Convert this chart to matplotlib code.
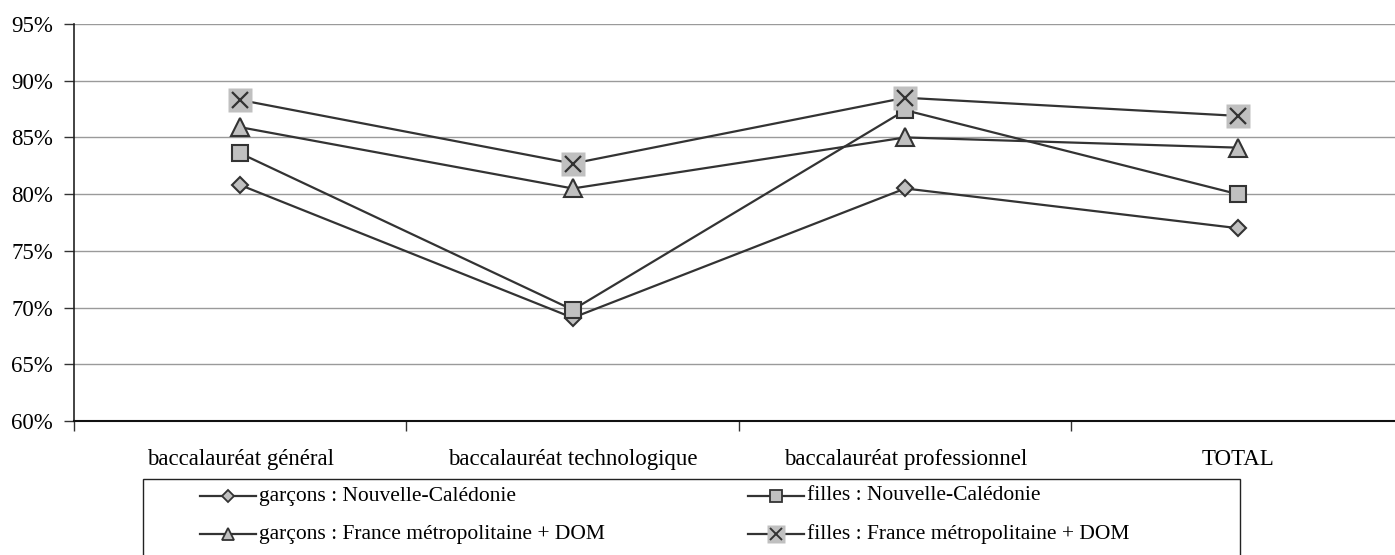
import matplotlib
matplotlib.use("Agg")
import matplotlib.pyplot as plt
from matplotlib.ticker import FixedLocator, FuncFormatter
from matplotlib.lines import Line2D
from matplotlib.patches import Rectangle

categories = ["baccalauréat général", "baccalauréat technologique",
              "baccalauréat professionnel", "TOTAL"]
garcons_nc = [80.8, 69.1, 80.5, 77.0]
filles_nc = [83.6, 69.8, 87.4, 80.0]
garcons_fm = [85.9, 80.5, 85.0, 84.1]
filles_fm = [88.3, 82.7, 88.5, 86.9]
labels = ["garçons : Nouvelle-Calédonie", "filles : Nouvelle-Calédonie",
          "garçons : France métropolitaine + DOM", "filles : France métropolitaine + DOM"]
yticks = [60, 65, 70, 75, 80, 85, 90, 95]

plt.rcParams['font.family'] = ['Liberation Serif', 'DejaVu Serif']

W, H = 1395, 555
fig = plt.figure(figsize=(W / 100, H / 100), dpi=100)
ax = fig.add_axes([74 / W, 1 - 421 / H, (1404 - 74) / W, (421 - 24) / H])

lc = "#333333"
mfc = "#c0c0c0"
x = list(range(len(categories)))

common = dict(color=lc, lw=1.6, mfc=mfc, mec=lc, mew=1.5, zorder=3)
ax.plot(x, garcons_nc, marker='D', ms=8.5, **common)
ax.plot(x, filles_nc, marker='s', ms=11.5, **common)
ax.plot(x, garcons_fm, marker='^', ms=12.5, **common)
ax.plot(x, filles_fm, color=lc, lw=1.6, marker='s', ms=17, mfc=mfc, mec='none', zorder=4)
ax.plot(x, filles_fm, ls='none', marker='x', ms=11, mec=lc, mew=1.6, zorder=5)

ax.set_xlim(-0.5, len(categories) - 0.5)
ax.set_ylim(60, 95)
ax.yaxis.set_major_locator(FixedLocator(yticks))
ax.yaxis.set_major_formatter(FuncFormatter(lambda v, p: f"{v:.0f}%"))
ax.grid(axis='y', color='#9a9a9a', lw=1.0)
ax.set_axisbelow(True)

ax.set_xticks(x)
ax.set_xticklabels(categories)
ax.set_xticks([i + 0.5 for i in range(-1, len(categories))], minor=True)
ax.tick_params(axis='x', which='major', length=0, pad=20, labelsize=16.5)
ax.tick_params(axis='x', which='minor', length=7, width=1, color='#333333')
ax.tick_params(axis='y', length=7, width=1, color='#333333', labelsize=16.5, pad=8)

for s in ['top', 'right']:
    ax.spines[s].set_visible(False)
ax.spines['left'].set_color('#222222')
ax.spines['left'].set_linewidth(1.2)
ax.spines['bottom'].set_color('#111111')
ax.spines['bottom'].set_linewidth(1.5)

# legend (drawn in figure pixel coordinates)
def fx(px):
    return px / W

def fy(py):
    return 1 - py / H

fig.patches.append(Rectangle((fx(143), fy(570)), fx(1240) - fx(143), fy(479) - fy(570),
                             transform=fig.transFigure, fill=False,
                             edgecolor='#222222', lw=1.0))

styles = [
    dict(marker='D', ms=6, mfc=mfc, mec=lc, mew=1.3),
    dict(marker='s', ms=8, mfc=mfc, mec=lc, mew=1.3),
    dict(marker='^', ms=8.5, mfc=mfc, mec=lc, mew=1.3),
    None,
]
cols = [200, 748]
rows = [496, 534]
entries = [(0, 0, 0), (1, 1, 0), (2, 0, 1), (3, 1, 1)]
for idx, c, r in entries:
    x0 = cols[c]
    y0 = rows[r]
    fig.add_artist(Line2D([fx(x0), fx(x0 + 56)], [fy(y0), fy(y0)],
                          transform=fig.transFigure, color=lc, lw=1.6))
    if styles[idx] is not None:
        fig.add_artist(Line2D([fx(x0 + 28)], [fy(y0)], transform=fig.transFigure,
                              ls='none', **styles[idx]))
    else:
        fig.add_artist(Line2D([fx(x0 + 28)], [fy(y0)], transform=fig.transFigure,
                              ls='none', marker='s', ms=12.5, mfc=mfc, mec='none'))
        fig.add_artist(Line2D([fx(x0 + 28)], [fy(y0)], transform=fig.transFigure,
                              ls='none', marker='x', ms=8.5, mec=lc, mew=1.4))
    fig.text(fx(x0 + 59), fy(y0), labels[idx], fontsize=15.5, va='center', ha='left')

fig.savefig("out.png", dpi=100)
